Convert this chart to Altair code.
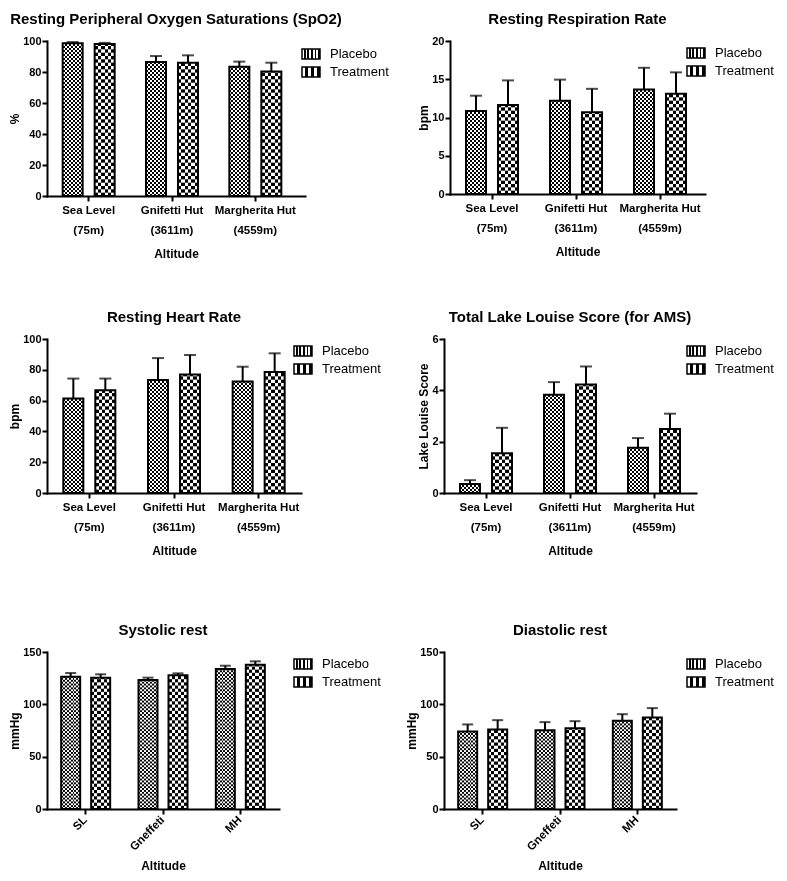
import altair as alt
import pandas as pd

FONT = "Liberation Sans"

conditions = ["Placebo", "Treatment"]
altitude_cats = ["Sea Level\n(75m)", "Gnifetti Hut\n(3611m)", "Margherita Hut\n(4559m)"]
bp_cats = ["SL", "Gneffeti", "MH"]

# Resting SpO2 (%)
spo2_placebo = [98.5, 86.5, 83.4]
spo2_placebo_err = [0.8, 3.8, 3.3]
spo2_treatment = [98.0, 86.0, 80.4]
spo2_treatment_err = [0.8, 4.75, 5.6]

# Resting respiration rate (bpm)
resp_placebo = [10.85, 12.2, 13.65]
resp_placebo_err = [2.0, 2.75, 2.85]
resp_treatment = [11.65, 10.7, 13.1]
resp_treatment_err = [3.2, 3.05, 2.8]

# Resting heart rate (bpm)
hr_placebo = [61.3, 73.3, 72.4]
hr_placebo_err = [13.0, 14.3, 9.6]
hr_treatment = [66.7, 77.0, 78.5]
hr_treatment_err = [7.6, 12.6, 12.2]

# Lake Louise score
lls_placebo = [0.35, 3.83, 1.76]
lls_placebo_err = [0.15, 0.49, 0.38]
lls_treatment = [1.55, 4.23, 2.49]
lls_treatment_err = [0.99, 0.70, 0.60]

# Systolic rest (mmHg)
sys_placebo = [126.4, 123.2, 133.8]
sys_placebo_err = [3.5, 2.3, 3.1]
sys_treatment = [125.5, 127.7, 137.9]
sys_treatment_err = [3.2, 1.9, 3.2]

# Diastolic rest (mmHg)
dia_placebo = [74.0, 75.3, 84.3]
dia_placebo_err = [6.8, 7.7, 6.3]
dia_treatment = [76.0, 77.2, 87.5]
dia_treatment_err = [8.9, 6.7, 8.9]


def make_df(cats, p, pe, t, te):
    rows = []
    for i, c in enumerate(cats):
        rows.append(dict(cat=c, cond="Placebo", mean=p[i], err=pe[i]))
        rows.append(dict(cat=c, cond="Treatment", mean=t[i], err=te[i]))
    return pd.DataFrame(rows)


def stripes_expr(n):
    stops = []
    for k in range(n):
        col = "white" if k % 2 == 0 else "black"
        stops.append("{offset:%.4f,color:'%s'}" % (k / n, col))
        stops.append("{offset:%.4f,color:'%s'}" % ((k + 1) / n, col))
    return "{gradient:'linear',x1:0,y1:0,x2:1,y2:0,stops:[" + ",".join(stops) + "]}"


def panel(df, title, ytitle, cats, ymax, yvalues, W, H, E, bar_w, bar_gap,
          rotated, leg_x, leg_y, cap=12, n_p=10, n_t=6):
    step = (W - E) / 3.0
    group = 2 * bar_w + bar_gap
    pi = 1 - group / step
    po = (E / step + pi) / 2
    align = pi / (4 * po)
    pi_off = bar_gap / (bar_w + bar_gap)

    sp = (bar_w / n_p) * ymax / H
    st = (bar_w / n_t) * ymax / H

    axis_common = dict(
        grid=False, domainColor="black", domainWidth=2, domainCap="square",
        tickColor="black", tickWidth=2, tickSize=5,
        labelFont=FONT, labelFontWeight="bold", labelColor="black",
        titleFont=FONT, titleFontSize=12, titleFontWeight="bold", titleColor="black",
    )
    if rotated:
        xaxis = alt.Axis(title="Altitude", labelAngle=-45, labelAlign="right",
                         labelBaseline="middle", labelFontSize=11.5, labelPadding=4,
                         titlePadding=8, **axis_common)
    else:
        xaxis = alt.Axis(title="Altitude", labelAngle=0,
                         labelExpr="split(datum.label, '\\n')",
                         labelLineHeight=20, labelFontSize=11.5, labelPadding=3,
                         titlePadding=13, **axis_common)
    yaxis = alt.Axis(title=ytitle, values=yvalues, labelFontSize=11, labelPadding=1,
                     titlePadding=1, **axis_common)

    x = alt.X("cat:N", sort=cats, title="Altitude",
              scale=alt.Scale(paddingInner=pi, paddingOuter=po, align=align), axis=xaxis)
    xo = alt.XOffset("cond:N", sort=conditions,
                     scale=alt.Scale(paddingInner=pi_off, paddingOuter=0))
    yscale = alt.Scale(domain=[0, ymax], nice=False, zero=True)

    def Y(field):
        return alt.Y(field, title=ytitle, scale=yscale, axis=yaxis, stack=None)

    base = alt.Chart(df).transform_calculate(hi="datum.mean + datum.err")

    white = base.mark_bar(fill="white").encode(x=x, xOffset=xo, y=Y("mean:Q"))

    rows = base.transform_calculate(
        step=f"datum.cond == 'Placebo' ? {sp} : {st}"
    ).transform_calculate(
        idx="sequence(0, ceil(datum.mean / datum.step))"
    ).transform_flatten(["idx"]).transform_filter(
        "datum.idx % 2 == 1"
    ).transform_calculate(
        r0="datum.idx * datum.step",
        r1="min((datum.idx + 1) * datum.step, datum.mean)",
    ).mark_bar(fill="black").encode(x=x, xOffset=xo, y=Y("r0:Q"), y2="r1:Q")

    over = base.mark_bar(blend="difference").encode(
        x=x, xOffset=xo, y=Y("mean:Q"),
        fill=alt.Fill(
            "cond:N", sort=conditions,
            scale=alt.Scale(domain=conditions,
                            range=[{"expr": stripes_expr(n_p)}, {"expr": stripes_expr(n_t)}]),
            legend=alt.Legend(
                title=None, orient="none", legendX=leg_x, legendY=leg_y,
                direction="vertical",
                symbolType="M-1,-0.55H1V0.55H-1Z", symbolSize=324,
                symbolStrokeColor="black", symbolStrokeWidth=1.5,
                labelFont=FONT, labelFontSize=13, labelColor="black",
                labelOffset=9, rowPadding=0, padding=0,
            ),
        ),
    )

    outline = base.mark_bar(fillOpacity=0, stroke="black", strokeWidth=2).encode(
        x=x, xOffset=xo, y=Y("mean:Q"))

    rule = base.mark_rule(color="black", strokeWidth=2).encode(
        x=x, xOffset=xo, y=Y("mean:Q"), y2="hi:Q")
    capm = base.mark_tick(color="black", thickness=2, size=cap).encode(
        x=x, xOffset=xo, y=Y("hi:Q"))

    return alt.layer(white, rows, over, outline, rule, capm).properties(
        width=W, height=H,
        title=alt.TitleParams(title, font=FONT, fontSize=15, fontWeight="bold",
                              color="black", anchor="middle", frame="group", offset=8),
    )


p1 = panel(make_df(altitude_cats, spo2_placebo, spo2_placebo_err, spo2_treatment, spo2_treatment_err),
           "Resting Peripheral Oxygen Saturations (SpO2)", "%", altitude_cats, 100,
           [0, 20, 40, 60, 80, 100], 258, 155, 8, 20, 12, False, 254, 3)
p2 = panel(make_df(altitude_cats, resp_placebo, resp_placebo_err, resp_treatment, resp_treatment_err),
           "Resting Respiration Rate", "bpm", altitude_cats, 20,
           [0, 5, 10, 15, 20], 255, 153, 3, 20, 12, False, 236, 2)
p3 = panel(make_df(altitude_cats, hr_placebo, hr_placebo_err, hr_treatment, hr_treatment_err),
           "Resting Heart Rate", "bpm", altitude_cats, 100,
           [0, 20, 40, 60, 80, 100], 254, 154, 0, 20, 12, False, 246, 2)
p4 = panel(make_df(altitude_cats, lls_placebo, lls_placebo_err, lls_treatment, lls_treatment_err),
           "Total Lake Louise Score (for AMS)", "Lake Louise Score", altitude_cats, 6,
           [0, 2, 4, 6], 252, 154, 0, 20, 12, False, 242, 2)
p5 = panel(make_df(bp_cats, sys_placebo, sys_placebo_err, sys_treatment, sys_treatment_err),
           "Systolic rest", "mmHg", bp_cats, 150,
           [0, 50, 100, 150], 232, 157, 0, 19, 11, True, 246, 2, cap=11)
p6 = panel(make_df(bp_cats, dia_placebo, dia_placebo_err, dia_treatment, dia_treatment_err),
           "Diastolic rest", "mmHg", bp_cats, 150,
           [0, 50, 100, 150], 232, 157, 0, 19, 11, True, 242, 2, cap=11)


def ind(c):
    return c.resolve_scale(fill="independent", x="independent", y="independent",
                           xOffset="independent").resolve_legend(fill="independent")


row1 = ind(alt.hconcat(p1, p2, spacing=28))
row2 = ind(alt.hconcat(p3, p4, spacing=36))
row3 = ind(alt.hconcat(p5, p6, spacing=24))

top = ind(alt.vconcat(row1, row2, spacing=50))
chart = ind(alt.vconcat(top, row3, spacing=66)).properties(
    padding={"top": 4, "left": 0, "right": 0, "bottom": 0}).configure(
    font=FONT, background="white", view=alt.ViewConfig(strokeWidth=0))

chart.save("out.html", embed_options={"renderer": "svg", "actions": False})
